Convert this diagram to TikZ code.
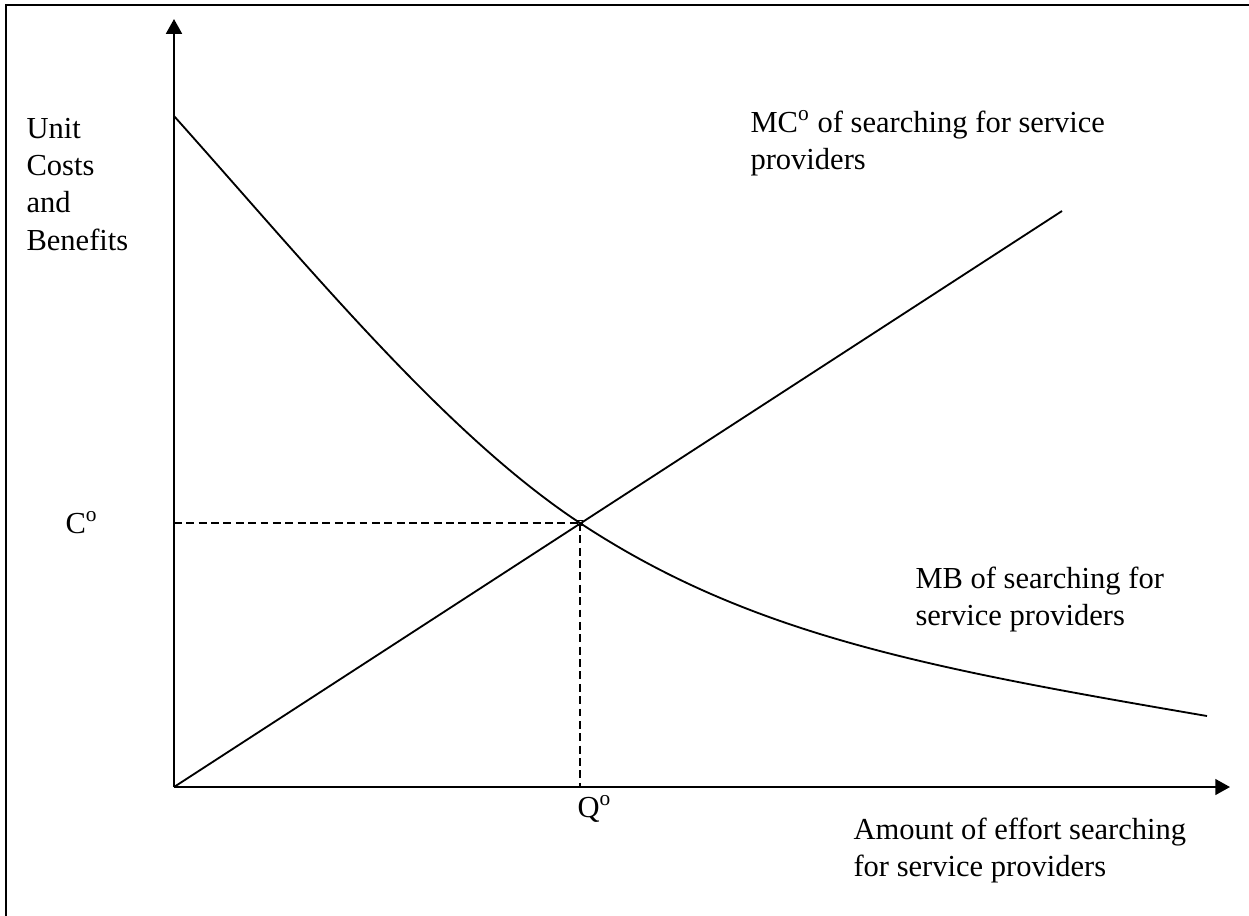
\documentclass[tikz,border=0pt]{standalone}
\usepackage{fontspec}
\setmainfont{Liberation Serif}
\usetikzlibrary{arrows.meta}

\begin{document}
\begin{tikzpicture}[
    x=0.38pt, y=-0.38pt,
    axis/.style={-{Triangle[length=5.6pt,width=6pt]}, line width=0.8pt},
    curve/.style={line width=0.7pt},
    guide/.style={line width=0.6pt, dash pattern=on 3pt off 1.7pt},
    lbl/.style={inner sep=0pt, font=\fontsize{11.6}{14.1}\selectfont, align=left}
]
\useasboundingbox (0,0) rectangle (1249,915);
\clip (0,0) rectangle (1249,915);
% frame, cut by the page at right and bottom
\draw[line width=0.8pt] (6,930) -- (6,5) -- (1260,5);

\coordinate (O) at (174,787);
\coordinate (ytop) at (174,19);
\coordinate (xend) at (1230,787);
\coordinate (E) at (580,523);
\coordinate (mcend) at (1062,211);
\coordinate (mbstart) at (174,116);
\coordinate (mbend) at (1207,716);
\coordinate (cax) at (174,523);

\draw[axis] (O) -- (ytop);
\draw[axis] (O) -- (xend);

% marginal cost and marginal benefit
\draw[curve] (O) -- (mcend);
\draw[curve] (mbstart) .. controls (309,267) and (445,434) .. (E)
    .. controls (750,635) and (927,668) .. (mbend);

% equilibrium
\draw[guide] (cax) -- (E);
\draw[guide] (E) -- (E |- O);
\node[draw, line width=0.4pt, inner sep=0pt, minimum size=1.6pt] (Emark) at (E) {};

\node[lbl, anchor=north west] (yttl) at (26,118) {Unit\\Costs\\and\\Benefits};
\node[lbl, anchor=base west] (clbl) at (65,533) {C\textsuperscript{o}};
\node[lbl, anchor=base west] (qlbl) at (577,817) {Q\textsuperscript{o}};
\node[lbl, anchor=north west] (mclbl) at (750,110) {MC\textsuperscript{o} of searching for service\\providers};
\node[lbl, anchor=north west] (mblbl) at (915,566) {MB of searching for\\service providers};
\node[lbl, anchor=north west] (xttl) at (853,817) {Amount of effort searching\\for service providers};
\end{tikzpicture}
\end{document}
